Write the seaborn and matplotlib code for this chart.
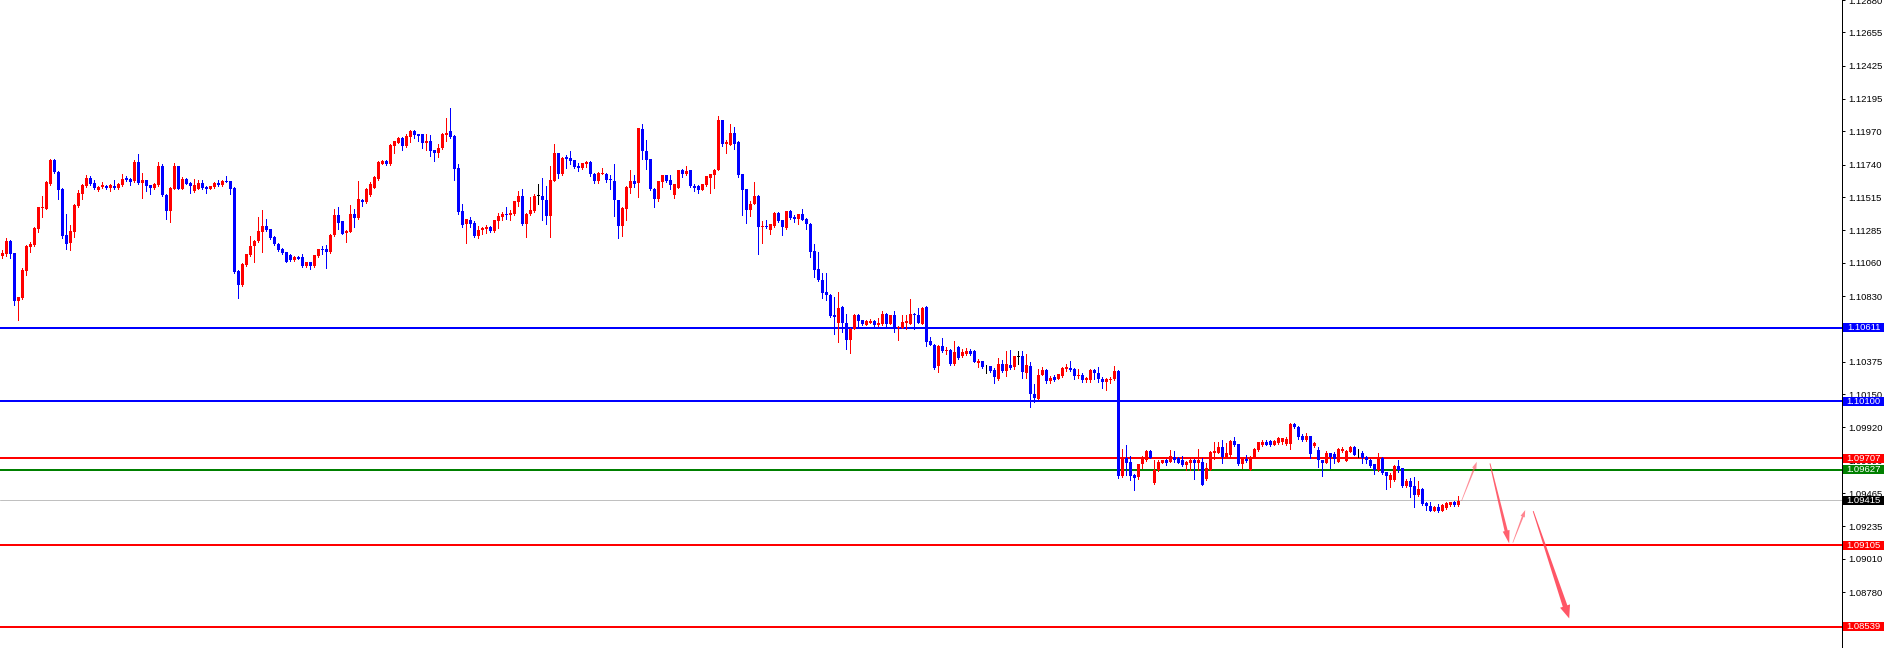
import numpy as np
import matplotlib
matplotlib.use("Agg")
import matplotlib.pyplot as plt
import seaborn as sns
from matplotlib.patches import Polygon, Rectangle
from matplotlib.transforms import IdentityTransform, blended_transform_factory
from matplotlib.lines import Line2D

sns.set_style("white")
plt.rcParams['font.family'] = ['Liberation Sans', 'DejaVu Sans']

# ---------------- data (EURUSD-like candles) ----------------
opens = [
1.11107,1.11119,1.11209,1.11126,1.10794,1.10817,1.11003,1.11170,1.11183,1.11294,
1.11437,1.11432,1.11608,1.11769,1.11688,1.11569,1.11250,1.11197,1.11271,1.11451,
1.11534,1.11592,1.11645,1.11610,1.11566,1.11584,1.11594,1.11575,1.11589,1.11578,
1.11598,1.11645,1.11640,1.11624,1.11755,1.11612,1.11631,1.11596,1.11578,1.11598,
1.11734,1.11532,1.11419,1.11573,1.11728,1.11573,1.11642,1.11612,1.11557,1.11573,
1.11610,1.11584,1.11573,1.11584,1.11612,1.11596,1.11626,1.11624,1.11578,1.11003,
1.10904,1.11043,1.11112,1.11177,1.11211,1.11276,1.11313,1.11292,1.11239,1.11193,
1.11156,1.11133,1.11112,1.11077,1.11100,1.11100,1.11038,1.11063,1.11038,1.11105,
1.11153,1.11153,1.11135,1.11250,1.11389,1.11347,1.11269,1.11276,1.11396,1.11368,
1.11497,1.11481,1.11529,1.11580,1.11640,1.11746,1.11765,1.11744,1.11868,1.11892,
1.11924,1.11866,1.11931,1.11970,1.11949,1.11949,1.11889,1.11907,1.11838,1.11820,
1.11854,1.11942,1.11970,1.11937,1.11714,1.11416,1.11326,1.11354,1.11335,1.11245,
1.11289,1.11294,1.11308,1.11278,1.11347,1.11377,1.11400,1.11391,1.11395,1.11478,
1.11520,1.11326,1.11395,1.11418,1.11524,1.11524,1.11497,1.11381,1.11630,1.11820,
1.11672,1.11790,1.11785,1.11769,1.11734,1.11716,1.11744,1.11758,1.11677,1.11624,
1.11675,1.11677,1.11638,1.11624,1.11493,1.11315,1.11430,1.11578,1.11624,1.11613,
1.11984,1.11834,1.11776,1.11573,1.11500,1.11620,1.11666,1.11631,1.11527,1.11580,
1.11700,1.11672,1.11700,1.11594,1.11594,1.11566,1.11596,1.11647,1.11666,1.11705,
1.12046,1.11885,1.11878,1.11961,1.11896,1.11672,1.11569,1.11424,1.11470,1.11520,
1.11308,1.11315,1.11285,1.11315,1.11405,1.11354,1.11301,1.11417,1.11377,1.11361,
1.11396,1.11364,1.11331,1.11140,1.11015,1.10939,1.10858,1.10835,1.10697,1.10644,
1.10755,1.10646,1.10529,1.10605,1.10702,1.10662,1.10633,1.10644,1.10658,1.10628,
1.10635,1.10709,1.10639,1.10697,1.10609,1.10612,1.10644,1.10639,1.10709,1.10697,
1.10639,1.10755,1.10517,1.10494,1.10344,1.10485,1.10448,1.10455,1.10358,1.10478,
1.10413,1.10427,1.10448,1.10448,1.10367,1.10379,1.10344,1.10344,1.10316,1.10259,
1.10362,1.10312,1.10355,1.10339,1.10409,1.10413,1.10298,1.10344,1.10155,1.10120,
1.10286,1.10316,1.10243,1.10270,1.10259,1.10275,1.10323,1.10335,1.10328,1.10275,
1.10282,1.10247,1.10252,1.10316,1.10300,1.10259,1.10236,1.10247,1.10254,1.10309,
1.09583,1.09712,1.09682,1.09590,1.09578,1.09664,1.09694,1.09756,1.09537,1.09625,
1.09675,1.09694,1.09682,1.09717,1.09712,1.09694,1.09659,1.09675,1.09698,1.09675,
1.09682,1.09560,1.09629,1.09740,1.09744,1.09786,1.09717,1.09728,1.09825,1.09804,
1.09666,1.09701,1.09629,1.09712,1.09763,1.09802,1.09821,1.09825,1.09802,1.09814,
1.09816,1.09809,1.09809,1.09943,1.09924,1.09860,1.09832,1.09860,1.09793,1.09763,
1.09694,1.09675,1.09740,1.09735,1.09682,1.09756,1.09689,1.09751,1.09788,1.09740,
1.09745,1.09717,1.09694,1.09664,1.09625,1.09712,1.09611,1.09555,1.09555,1.09652,
1.09636,1.09514,1.09551,1.09514,1.09452,1.09493,1.09399,1.09376,1.09343,1.09371,
1.09343,1.09364,1.09382,1.09401,1.09382]

highs = [
1.11146,1.11230,1.11215,1.11130,1.10825,1.11022,1.11183,1.11204,1.11305,1.11450,
1.11520,1.11625,1.11776,1.11781,1.11695,1.11575,1.11396,1.11319,1.11465,1.11562,
1.11603,1.11665,1.11658,1.11631,1.11592,1.11617,1.11598,1.11603,1.11631,1.11612,
1.11677,1.11663,1.11645,1.11769,1.11811,1.11679,1.11636,1.11600,1.11610,1.11755,
1.11746,1.11536,1.11584,1.11751,1.11734,1.11654,1.11647,1.11617,1.11638,1.11631,
1.11631,1.11594,1.11594,1.11619,1.11635,1.11631,1.11658,1.11628,1.11584,1.11008,
1.11056,1.11123,1.11246,1.11216,1.11377,1.11423,1.11365,1.11296,1.11244,1.11197,
1.11160,1.11137,1.11119,1.11105,1.11105,1.11123,1.11068,1.11068,1.11116,1.11158,
1.11179,1.11181,1.11260,1.11435,1.11446,1.11352,1.11285,1.11462,1.11430,1.11624,
1.11502,1.11578,1.11619,1.11658,1.11762,1.11769,1.11769,1.11883,1.11906,1.11929,
1.11931,1.11951,1.11977,1.11981,1.11954,1.11954,1.11953,1.11942,1.11842,1.11880,
1.11962,1.12064,1.12129,1.11942,1.11741,1.11464,1.11365,1.11374,1.11347,1.11312,
1.11305,1.11319,1.11312,1.11358,1.11404,1.11411,1.11446,1.11428,1.11490,1.11554,
1.11568,1.11404,1.11515,1.11538,1.11603,1.11644,1.11589,1.11734,1.11880,1.11824,
1.11792,1.11810,1.11831,1.11773,1.11750,1.11754,1.11764,1.11764,1.11681,1.11686,
1.11718,1.11684,1.11670,1.11746,1.11497,1.11444,1.11589,1.11700,1.11666,1.11997,
1.12018,1.11908,1.11780,1.11578,1.11628,1.11670,1.11670,1.11666,1.11608,1.11705,
1.11712,1.11728,1.11705,1.11608,1.11598,1.11608,1.11663,1.11677,1.11710,1.12080,
1.12050,1.11908,1.12018,1.12000,1.11901,1.11677,1.11573,1.11486,1.11620,1.11532,
1.11347,1.11354,1.11331,1.11409,1.11409,1.11358,1.11421,1.11424,1.11389,1.11400,
1.11431,1.11368,1.11335,1.11188,1.11138,1.10990,1.10990,1.10847,1.10824,1.10858,
1.10760,1.10709,1.10610,1.10706,1.10709,1.10667,1.10662,1.10670,1.10662,1.10681,
1.10727,1.10713,1.10702,1.10727,1.10621,1.10697,1.10697,1.10812,1.10713,1.10750,
1.10755,1.10760,1.10547,1.10498,1.10490,1.10540,1.10478,1.10460,1.10517,1.10483,
1.10462,1.10473,1.10460,1.10455,1.10393,1.10383,1.10351,1.10349,1.10335,1.10404,
1.10385,1.10450,1.10455,1.10418,1.10448,1.10448,1.10427,1.10372,1.10224,1.10323,
1.10339,1.10326,1.10275,1.10282,1.10293,1.10339,1.10358,1.10379,1.10333,1.10326,
1.10300,1.10268,1.10326,1.10328,1.10339,1.10270,1.10266,1.10270,1.10347,1.10316,
1.09774,1.09797,1.09721,1.09597,1.09670,1.09724,1.09761,1.09763,1.09698,1.09694,
1.09698,1.09705,1.09763,1.09756,1.09717,1.09721,1.09687,1.09703,1.09703,1.09774,
1.09712,1.09671,1.09756,1.09821,1.09821,1.09832,1.09814,1.09832,1.09851,1.09809,
1.09712,1.09728,1.09721,1.09779,1.09821,1.09832,1.09832,1.09830,1.09832,1.09851,
1.09849,1.09851,1.09954,1.09954,1.09929,1.09878,1.09883,1.09864,1.09821,1.09786,
1.09698,1.09756,1.09744,1.09747,1.09775,1.09786,1.09761,1.09793,1.09793,1.09770,
1.09758,1.09721,1.09701,1.09668,1.09745,1.09717,1.09615,1.09606,1.09657,1.09694,
1.09640,1.09560,1.09571,1.09578,1.09548,1.09498,1.09405,1.09405,1.09376,1.09387,
1.09387,1.09403,1.09405,1.09410,1.09445]

lows = [
1.11093,1.11110,1.11093,1.10768,1.10662,1.10810,1.10974,1.11135,1.11180,1.11273,
1.11377,1.11430,1.11600,1.11680,1.11499,1.11234,1.11153,1.11146,1.11239,1.11445,
1.11504,1.11585,1.11596,1.11568,1.11557,1.11578,1.11573,1.11557,1.11570,1.11573,
1.11594,1.11626,1.11598,1.11619,1.11605,1.11508,1.11557,1.11534,1.11573,1.11594,
1.11520,1.11363,1.11342,1.11568,1.11568,1.11568,1.11603,1.11541,1.11552,1.11568,
1.11573,1.11541,1.11568,1.11580,1.11592,1.11592,1.11617,1.11538,1.10990,1.10817,
1.10899,1.11040,1.11108,1.11066,1.11207,1.11135,1.11280,1.11228,1.11183,1.11140,
1.11124,1.11063,1.11073,1.11073,1.11084,1.11033,1.11033,1.11020,1.11033,1.11100,
1.11123,1.11024,1.11130,1.11246,1.11296,1.11257,1.11204,1.11271,1.11308,1.11363,
1.11453,1.11476,1.11524,1.11575,1.11635,1.11741,1.11737,1.11739,1.11822,1.11887,
1.11840,1.11861,1.11900,1.11924,1.11907,1.11854,1.11838,1.11803,1.11764,1.11792,
1.11850,1.11903,1.11927,1.11637,1.11395,1.11308,1.11197,1.11308,1.11238,1.11231,
1.11257,1.11266,1.11276,1.11274,1.11301,1.11354,1.11366,1.11359,1.11391,1.11453,
1.11319,1.11238,1.11391,1.11414,1.11464,1.11354,1.11326,1.11238,1.11626,1.11649,
1.11668,1.11716,1.11746,1.11716,1.11693,1.11712,1.11723,1.11661,1.11612,1.11612,
1.11672,1.11620,1.11571,1.11382,1.11232,1.11246,1.11359,1.11544,1.11585,1.11516,
1.11776,1.11712,1.11565,1.11447,1.11488,1.11585,1.11620,1.11573,1.11511,1.11575,
1.11654,1.11666,1.11585,1.11557,1.11546,1.11562,1.11592,1.11544,1.11580,1.11700,
1.11869,1.11820,1.11874,1.11845,1.11654,1.11389,1.11336,1.11384,1.11466,1.11119,
1.11197,1.11303,1.11262,1.11310,1.11345,1.11250,1.11296,1.11366,1.11343,1.11326,
1.11354,1.11292,1.11101,1.10962,1.10935,1.10819,1.10801,1.10686,1.10570,1.10513,
1.10582,1.10460,1.10437,1.10600,1.10612,1.10628,1.10628,1.10640,1.10616,1.10623,
1.10630,1.10616,1.10635,1.10582,1.10529,1.10607,1.10600,1.10635,1.10605,1.10640,
1.10635,1.10485,1.10490,1.10328,1.10305,1.10446,1.10432,1.10354,1.10354,1.10397,
1.10409,1.10423,1.10420,1.10370,1.10340,1.10335,1.10300,1.10307,1.10229,1.10247,
1.10307,1.10275,1.10323,1.10323,1.10358,1.10263,1.10266,1.10063,1.10097,1.10115,
1.10282,1.10231,1.10231,1.10243,1.10254,1.10270,1.10312,1.10312,1.10259,1.10266,
1.10236,1.10236,1.10236,1.10254,1.10236,1.10192,1.10181,1.10231,1.10249,1.09572,
1.09574,1.09590,1.09555,1.09486,1.09560,1.09636,1.09689,1.09708,1.09532,1.09620,
1.09671,1.09659,1.09678,1.09682,1.09671,1.09655,1.09629,1.09629,1.09560,1.09629,
1.09520,1.09555,1.09625,1.09705,1.09740,1.09675,1.09712,1.09724,1.09793,1.09661,
1.09636,1.09684,1.09625,1.09708,1.09759,1.09791,1.09797,1.09791,1.09797,1.09809,
1.09809,1.09798,1.09768,1.09915,1.09837,1.09828,1.09828,1.09712,1.09786,1.09643,
1.09585,1.09671,1.09636,1.09675,1.09678,1.09751,1.09685,1.09747,1.09726,1.09717,
1.09671,1.09671,1.09643,1.09597,1.09620,1.09597,1.09491,1.09509,1.09551,1.09613,
1.09509,1.09509,1.09440,1.09371,1.09447,1.09382,1.09348,1.09339,1.09339,1.09336,
1.09339,1.09355,1.09378,1.09378,1.09378]

closes = [
1.11130,1.11209,1.11119,1.10794,1.10821,1.11008,1.11177,1.11190,1.11299,1.11444,
1.11444,1.11619,1.11769,1.11688,1.11562,1.11243,1.11188,1.11278,1.11458,1.11541,
1.11596,1.11645,1.11603,1.11575,1.11587,1.11598,1.11578,1.11598,1.11575,1.11608,
1.11642,1.11631,1.11621,1.11755,1.11612,1.11631,1.11592,1.11575,1.11605,1.11734,
1.11527,1.11419,1.11578,1.11728,1.11573,1.11642,1.11608,1.11594,1.11596,1.11610,
1.11578,1.11573,1.11589,1.11614,1.11596,1.11626,1.11621,1.11573,1.10997,1.10904,
1.11050,1.11119,1.11179,1.11211,1.11280,1.11313,1.11285,1.11232,1.11188,1.11146,
1.11128,1.11068,1.11077,1.11100,1.11089,1.11038,1.11063,1.11038,1.11112,1.11153,
1.11146,1.11135,1.11255,1.11389,1.11336,1.11262,1.11280,1.11396,1.11373,1.11499,
1.11483,1.11573,1.11603,1.11654,1.11758,1.11765,1.11741,1.11878,1.11901,1.11924,
1.11868,1.11935,1.11972,1.11944,1.11935,1.11889,1.11907,1.11833,1.11820,1.11856,
1.11951,1.11962,1.11931,1.11707,1.11411,1.11324,1.11361,1.11326,1.11245,1.11289,
1.11301,1.11308,1.11280,1.11354,1.11381,1.11400,1.11391,1.11404,1.11485,1.11524,
1.11326,1.11400,1.11423,1.11524,1.11524,1.11492,1.11381,1.11637,1.11820,1.11672,
1.11785,1.11778,1.11762,1.11727,1.11716,1.11750,1.11758,1.11672,1.11624,1.11681,
1.11679,1.11631,1.11631,1.11493,1.11315,1.11440,1.11585,1.11624,1.11608,1.11993,
1.11834,1.11769,1.11569,1.11504,1.11624,1.11666,1.11624,1.11601,1.11603,1.11700,
1.11672,1.11696,1.11590,1.11580,1.11562,1.11603,1.11659,1.11672,1.11705,1.12046,
1.11882,1.11896,1.11961,1.11880,1.11666,1.11562,1.11424,1.11470,1.11520,1.11308,
1.11315,1.11308,1.11326,1.11405,1.11350,1.11308,1.11417,1.11370,1.11366,1.11396,
1.11359,1.11326,1.11135,1.11013,1.10939,1.10854,1.10835,1.10692,1.10686,1.10750,
1.10646,1.10529,1.10605,1.10702,1.10658,1.10639,1.10658,1.10658,1.10628,1.10644,
1.10709,1.10639,1.10697,1.10616,1.10616,1.10651,1.10658,1.10709,1.10697,1.10644,
1.10748,1.10513,1.10494,1.10335,1.10485,1.10450,1.10455,1.10358,1.10444,1.10402,
1.10444,1.10448,1.10432,1.10374,1.10379,1.10340,1.10344,1.10312,1.10270,1.10362,
1.10312,1.10362,1.10335,1.10413,1.10409,1.10305,1.10351,1.10155,1.10125,1.10286,
1.10316,1.10243,1.10266,1.10252,1.10289,1.10333,1.10339,1.10321,1.10275,1.10286,
1.10247,1.10263,1.10316,1.10298,1.10254,1.10236,1.10254,1.10259,1.10309,1.09583,
1.09712,1.09671,1.09583,1.09572,1.09666,1.09717,1.09756,1.09712,1.09629,1.09682,
1.09694,1.09675,1.09721,1.09694,1.09675,1.09659,1.09682,1.09698,1.09671,1.09698,
1.09525,1.09636,1.09751,1.09756,1.09786,1.09717,1.09745,1.09825,1.09797,1.09666,
1.09701,1.09689,1.09712,1.09768,1.09816,1.09821,1.09802,1.09797,1.09825,1.09844,
1.09844,1.09839,1.09943,1.09920,1.09855,1.09832,1.09860,1.09735,1.09814,1.09694,
1.09675,1.09740,1.09717,1.09705,1.09768,1.09770,1.09756,1.09788,1.09731,1.09740,
1.09712,1.09694,1.09652,1.09625,1.09712,1.09606,1.09583,1.09590,1.09652,1.09629,
1.09514,1.09551,1.09509,1.09452,1.09493,1.09389,1.09376,1.09343,1.09371,1.09341,
1.09382,1.09394,1.09401,1.09382,1.09410]

# horizontal levels and their label colours
level_prices = [1.10611, 1.10100, 1.09707, 1.09627, 1.09105, 1.08539]
level_colors = ['#0000FF', '#0000FF', '#FF0000', '#008000', '#FF0000', '#FF0000']
current_price = 1.09415

# right-axis tick values
tick_values = [1.12880, 1.12655, 1.12425, 1.12195, 1.11970, 1.11740, 1.11515,
               1.11285, 1.11060, 1.10830, 1.10605, 1.10375, 1.10150, 1.09920,
               1.09690, 1.09465, 1.09235, 1.09010, 1.08780, 1.08555]

# projected path arrows (bar index, price)
arrow_start = [(365.8, 1.09412), (372.9, 1.09671), (378.6, 1.09122), (383.7, 1.09341)]
arrow_end = [(369.6, 1.09682), (377.7, 1.09117), (381.7, 1.09348), (392.7, 1.08598)]

# ---------------- figure ----------------
W, H = 1888, 648
fig = plt.figure(figsize=(W / 100, H / 100), dpi=100)
fig.patch.set_facecolor('white')
plot_w = 1842
ax = fig.add_axes([0, 0, plot_w / W, 1])
ax.set_facecolor('white')

n = len(closes)
x = np.arange(1, n + 1)
o = np.array(opens); c = np.array(closes); hi = np.array(highs); lo = np.array(lows)
cols = np.where(c > o, '#FF0000', np.where(c < o, '#0000FF', '#000000'))

px = 0.72  # one pixel in points
ax.vlines(x, lo, hi, colors=cols, linewidth=1 * px, antialiased=False, zorder=3)
bottom = np.minimum(o, c)
height = np.maximum(np.abs(c - o), 0.00005)
ax.bar(x, height, bottom=bottom, width=0.74, color=cols, linewidth=0,
       antialiased=False, zorder=4)

ax.set_xlim(0.42, 460.9)
ax.set_ylim(1.08393, 1.12876)

for p, col in zip(level_prices, level_colors):
    ax.axhline(p, color=col, linewidth=2 * px, zorder=2)
ax.axhline(current_price, color='#C0C0C0', linewidth=1 * px, zorder=1)

# axes styling
for s in ['top', 'left', 'bottom']:
    ax.spines[s].set_visible(False)
ax.spines['right'].set_color('black')
ax.spines['right'].set_linewidth(1 * px)
ax.set_xticks([])
ax.yaxis.tick_right()
ax.set_yticks(tick_values)
ax.set_yticklabels([f"{v:.5f}" for v in tick_values])
ax.tick_params(axis='y', direction='out', length=3 * px, width=1 * px,
               pad=3 * px, labelsize=6.8, colors='black')
ax.grid(False)

# price labels on the axis
trans = blended_transform_factory(ax.transAxes, ax.transData)
unit = 0.00006918
box_left = 1 + 1.0 / plot_w
box_w = 41.0 / plot_w
labels = list(zip(level_prices, level_colors)) + [(current_price, '#000000')]
for p, col in labels:
    r = Rectangle((box_left, p - 4.5 * unit), box_w, 9 * unit, transform=trans,
                  facecolor=col, edgecolor='none', clip_on=False, zorder=10)
    ax.add_patch(r)
    ax.text(box_left + box_w / 2, p, f"{p:.5f}", transform=trans, color='white',
            ha='center', va='center', fontsize=6.8, clip_on=False, zorder=11)

# far right light border
fig.add_artist(Line2D([1 - 0.5 / W, 1 - 0.5 / W], [0, 1], transform=fig.transFigure,
                      color='#D0D0D0', linewidth=1 * px))

# tapered arrows
def taper_arrow(p0, p1, w0, w1, head_w, head_len, color, alpha):
    P0 = ax.transData.transform(p0)
    P1 = ax.transData.transform(p1)
    d = P1 - P0
    L = np.hypot(*d)
    u = d / L
    nv = np.array([-u[1], u[0]])
    base = P1 - u * head_len
    pts = [P0 + nv * w0 / 2, base + nv * w1 / 2, base + nv * head_w / 2, P1,
           base - nv * head_w / 2, base - nv * w1 / 2, P0 - nv * w0 / 2]
    poly = Polygon(pts, closed=True, transform=IdentityTransform(),
                   facecolor=color, edgecolor='none', alpha=alpha, zorder=6)
    fig.add_artist(poly)

arrow_style = [(0.6, 1.8, 4.5, 7, 0.6), (0.9, 3.2, 7, 13, 0.85),
               (0.6, 1.8, 4.5, 7, 0.65), (0.9, 4.8, 10.5, 13, 0.9)]
for s, e, st in zip(arrow_start, arrow_end, arrow_style):
    taper_arrow(s, e, st[0], st[1], st[2], st[3], '#FF4455', st[4])

fig.savefig('out.png', dpi=100, facecolor='white')
